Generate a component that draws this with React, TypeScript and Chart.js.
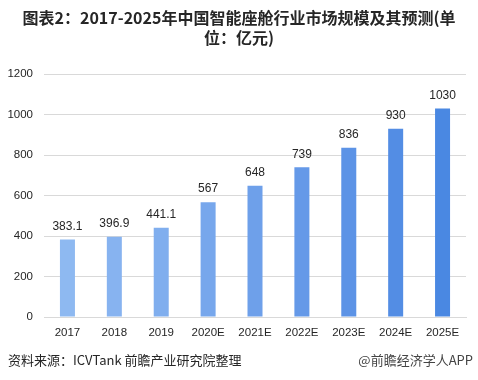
import React, { useEffect, useRef } from "react";
import { Chart, registerables } from "chart.js";

Chart.register(...registerables);

const titleLines = ["图表2：2017-2025年中国智能座舱行业市场规模及其预测(单", "位：亿元)"];
const categories = ["2017", "2018", "2019", "2020E", "2021E", "2022E", "2023E", "2024E", "2025E"];
const values = [383.1, 396.9, 441.1, 567, 648, 739, 836, 930, 1030];
const barColors = ["#8EB9F1", "#87B3F0", "#80AEEE", "#77A7EC", "#6EA0EA", "#6599E8", "#5C93E6", "#538DE4", "#4A88E2"];
const yTicks = [0, 200, 400, 600, 800, 1000, 1200];
const sourceText = "资料来源：ICVTank 前瞻产业研究院整理";
const brandText = "@前瞻经济学人APP";

const CJK = '"Noto Sans CJK SC", "Liberation Sans", sans-serif';
const NUM = '"Liberation Sans", "Noto Sans CJK SC", sans-serif';

const decorPlugin = {
  id: "decor",
  afterDraw(chart: any) {
    const ctx = chart.ctx;
    ctx.save();
    ctx.fillStyle = "#262626";
    ctx.font = `bold 16px ${CJK}`;
    ctx.textAlign = "center";
    ctx.textBaseline = "middle";
    ctx.fillText(titleLines[0], 239, 18);
    ctx.fillText(titleLines[1], 239, 38);
    ctx.font = `13px ${CJK}`;
    ctx.textAlign = "left";
    ctx.fillStyle = "#262626";
    ctx.fillText(sourceText, 8, 360);
    ctx.textAlign = "right";
    ctx.fillStyle = "#444444";
    ctx.fillText(brandText, 473, 360);
    ctx.restore();
  },
};

const labelPlugin = {
  id: "barLabels",
  afterDatasetsDraw(chart: any) {
    const ctx = chart.ctx;
    const meta = chart.getDatasetMeta(0);
    ctx.save();
    ctx.fillStyle = "#262626";
    ctx.font = `12px ${NUM}`;
    ctx.textAlign = "center";
    ctx.textBaseline = "bottom";
    meta.data.forEach((el: any, i: number) => {
      ctx.fillText(String(values[i]), el.x, el.y - 7);
    });
    ctx.restore();
  },
};

export default function App() {
  const ref = useRef<HTMLCanvasElement>(null);
  useEffect(() => {
    document.body.style.margin = "0";
    const chart = new Chart(ref.current!, {
      type: "bar",
      data: {
        labels: categories,
        datasets: [
          {
            data: values,
            backgroundColor: barColors,
            barPercentage: 0.64,
            categoryPercentage: 0.5,
          },
        ],
      },
      options: {
        animation: false,
        responsive: false,
        devicePixelRatio: 1,
        layout: { padding: { top: 74, right: 12, left: 0, bottom: 0 } },
        plugins: { legend: { display: false }, title: { display: false }, tooltip: { enabled: false } },
        scales: {
          x: {
            grid: { display: false, drawTicks: false },
            border: { display: true, color: "#d9d9d9", width: 1 },
            ticks: { color: "#262626", font: { family: NUM, size: 11.5 }, padding: 9, maxRotation: 0, autoSkip: false },
            afterFit: (s: any) => { s.height = 63; },
          },
          y: {
            min: 0,
            max: 1200,
            afterBuildTicks: (s: any) => { s.ticks = yTicks.map((v) => ({ value: v })); },
            grid: { color: "#d9d9d9", drawTicks: false, lineWidth: 1 },
            border: { display: false },
            ticks: { color: "#262626", font: { family: NUM, size: 11.5 }, padding: 11, callback: (v: any) => String(v) },
            afterFit: (s: any) => { s.width = 44; },
          },
        },
      },
      plugins: [labelPlugin, decorPlugin],
    });
    return () => chart.destroy();
  }, []);
  return (
    <div style={{ position: "absolute", left: 0, top: 0, width: 478, height: 380, background: "#fff" }}>
      <canvas ref={ref} width={478} height={380} />
    </div>
  );
}
